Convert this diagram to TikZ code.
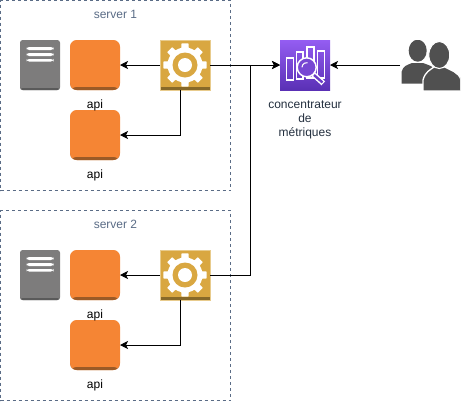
\documentclass[tikz,border=0pt]{standalone}
\usepackage{fontspec}
\setmainfont{Liberation Sans}
\usetikzlibrary{positioning,arrows.meta}

\definecolor{servergray}{HTML}{5A6C86}
\definecolor{labelgray}{HTML}{232F3E}
\definecolor{apiorange}{HTML}{F58534}
\definecolor{apidark}{HTML}{9B5A26}
\definecolor{geargold}{HTML}{D9A741}
\definecolor{geardark}{HTML}{876929}
\definecolor{gearlight}{HTML}{E8CB8C}
\definecolor{docgray}{HTML}{7D7C7C}
\definecolor{docdark}{HTML}{5A5A5A}
\definecolor{usergray}{HTML}{505050}
\definecolor{metrictop}{HTML}{945DF2}
\definecolor{metricbottom}{HTML}{5A30B5}

\begin{document}
\begin{tikzpicture}[x=0.75pt,y=-0.75pt,node distance=7.5pt,font=\fontsize{9}{10.5}\selectfont]
\tikzstyle{server} = [rectangle, minimum width=172.5pt, minimum height=142.5pt, inner sep=0pt, outer sep=0pt, draw=servergray, line width=0.75pt, dash pattern=on 2.25pt off 2.25pt]

\tikzstyle{servertext} = [inner sep=0pt, text=servergray]

\tikzstyle{api} = [rectangle, rounded corners=5pt, minimum width=37.5pt, minimum height=37.5pt, inner sep=0pt, outer sep=0pt, fill=apiorange, path picture={\fill[apidark] ([yshift=2.25pt]path picture bounding box.south west) rectangle (path picture bounding box.south east);}]

\tikzstyle{doc} = [rectangle, rounded corners=2pt, minimum width=30pt, minimum height=37.5pt, inner sep=0pt, outer sep=0pt, fill=docgray, path picture={
  \fill[docdark] ([yshift=1.5pt]path picture bounding box.south west) rectangle (path picture bounding box.south east);
  \begin{scope}[shift={(path picture bounding box.center)}]
    \fill[white] (-13.5,-18) rectangle (13.5,-15);
    \fill[white] (-13.5,-12) rectangle (13.5,-9);
    \fill[white] (-13.5,-6) rectangle (13.5,-3.5);
  \end{scope}}]

\tikzstyle{gear} = [rectangle, minimum width=37.5pt, minimum height=37.5pt, inner sep=0pt, outer sep=0pt, fill=geargold, draw=gearlight, line width=0.5pt, path picture={
  \fill[geardark] ([yshift=2.25pt]path picture bounding box.south west) rectangle (path picture bounding box.south east);
  \begin{scope}[shift={(path picture bounding box.center)}, yshift=0.5pt]
    \foreach \a in {0,45,90,135,180,225,270,315} {
      \fill[white] ({\a-14}:16) -- ({\a-9}:22) -- ({\a+9}:22) -- ({\a+14}:16) -- cycle;
    }
    \fill[white] (0,0) circle (17.5);
    \fill[geargold] (0,0) circle (12.5);
    \fill[white] (0,0) circle (7);
  \end{scope}}]

\tikzstyle{metrics} = [rectangle, minimum width=37.5pt, minimum height=37.5pt, inner sep=0pt, outer sep=0pt, top color=metrictop, bottom color=metricbottom, path picture={
  \begin{scope}[shift={(path picture bounding box.center)}, draw=white, line width=1.1pt]
    \draw (-18.3,-7) rectangle (-11.7,15);
    \draw (-8.3,-13) rectangle (-2,14);
    \draw (2,-18) rectangle (9,13);
    \draw (12.7,-14) rectangle (19.3,13);
    \draw[line width=4pt] (8,9) -- (18.3,18.3);
    \draw[metricbottom!70!metrictop, line width=1.8pt] (9,10) -- (17.5,17.5);
    \filldraw[fill=metricbottom!50!metrictop] (1.7,2.3) circle (9.5);
    \draw[line width=0.8pt] (-3,2.3) arc (180:280:4.7);
  \end{scope}}]

\tikzstyle{users} = [rectangle, minimum width=45pt, minimum height=37.5pt, inner sep=0pt, outer sep=0pt, path picture={
  \begin{scope}[shift={(path picture bounding box.center)}]
    \fill[usergray] (-12.3,-14.3) ellipse (9 and 11);
    \fill[usergray] (-28.5,18.5) -- (-28.5,7) .. controls (-27,1) and (-23,0) .. (-18,-2) -- (-7,-2) .. controls (-2,0) and (4,1) .. (7,7) -- (7,18.5) -- cycle;
    \fill[usergray, draw=white, line width=1pt] (-7,26) -- (-7,15) .. controls (-5,7) and (0,5) .. (4,2) -- (15,2) .. controls (20,5) and (29,7) .. (31,15) -- (31,26) -- cycle;
    \fill[usergray, draw=white, line width=0.8pt] (9.3,-10) ellipse (10.5 and 13.5);
  \end{scope}}]

\tikzstyle{arrow} = [line width=0.75pt,-{Stealth[length=6pt,width=6pt,inset=1.5pt]}]

\useasboundingbox (0,0) rectangle (461,401);

\node (server1) [server] at (115.5,95.5) {};
\node (server2) [server] at (115.5,305.5) {};
\node (title1) [servertext, below=7pt of server1.north] {server 1};
\node (title2) [servertext, below=7pt of server2.north] {server 2};

\node (doc1) [doc] at (40,65) {};
\node (api1) [api] at (95,65) {};
\node (api2) [api] at (95,135) {};
\node (gear1) [gear] at (185,65) {};
\node (label1) [below=of api1, inner sep=0pt] {api};
\node (label2) [below=of api2, inner sep=0pt] {api};

\node (doc2) [doc] at (40,275) {};
\node (api3) [api] at (95,275) {};
\node (api4) [api] at (95,345) {};
\node (gear2) [gear] at (185,275) {};
\node (label3) [below=of api3, inner sep=0pt] {api};
\node (label4) [below=of api4, inner sep=0pt] {api};

\node (metrics) [metrics] at (305,65) {};
\node (metricslabel) [below=of metrics, inner sep=0pt, align=center, text=labelgray] {concentrateur\\de\\métriques};
\node (users) [users] at (430,65) {};
\coordinate (junction) at (250,65);

\draw [arrow] (gear1) -- (api1);
\draw [arrow] ([xshift=-3.75pt]gear1.south) |- (api2);
\draw [arrow] (gear2) -- (api3);
\draw [arrow] ([xshift=-3.75pt]gear2.south) |- (api4);
\draw [arrow] (gear1) -- (metrics);
\draw [arrow] (gear2) -| (junction) -- (metrics);
\draw [arrow] (users) -- (metrics);

\end{tikzpicture}
\end{document}
